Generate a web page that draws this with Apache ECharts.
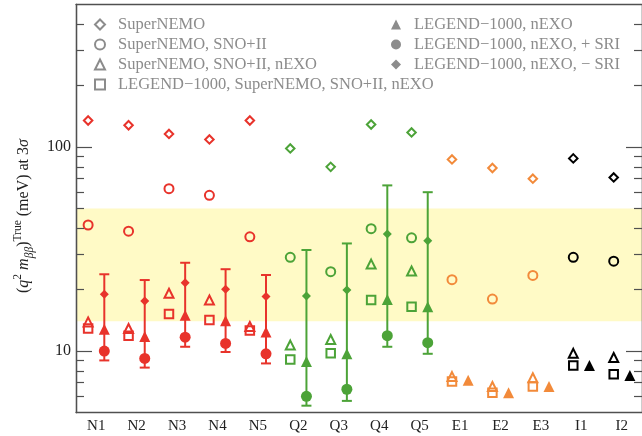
<!DOCTYPE html>
<html>
<head>
<meta charset="utf-8">
<script src="https://cdn.jsdelivr.net/npm/echarts@6/dist/echarts.min.js"></script>
<style>
  html, body {margin: 0; padding: 0; background: #fff;}
  #chart {width: 642px; height: 436px;}
</style>
</head>
<body>
<div id="chart"></div>
<script>
const categories = ["N1", "N2", "N3", "N4", "N5", "Q2", "Q3", "Q4", "Q5", "E1", "E2", "E3", "I1", "I2"];
const groupColor = [
  "#e8332b", "#e8332b", "#e8332b", "#e8332b", "#e8332b",
  "#4ca338", "#4ca338", "#4ca338", "#4ca338",
  "#f28a3a", "#f28a3a", "#f28a3a",
  "#000000", "#000000",
];

// open markers
const superNemo = [135, 128, 116, 109, 135, 98.5, 80, 129, 118, 87, 79, 70, 88, 71];
const superNemoSno = [41.5, 38.7, 62.5, 58, 36.3, 28.8, 24.5, 39.8, 35.9, 22.4, 18.0, 23.5, 28.8, 27.6];
const superNemoSnoNexo = [13.9, 12.9, 19.2, 17.8, 13.2, 10.7, 11.4, 26.7, 24.7, 7.5, 6.7, 7.4, 9.75, 9.3];
const allFour = [12.9, 11.9, 15.2, 14.2, 12.6, 9.1, 9.75, 17.8, 16.5, 7.1, 6.25, 6.7, 8.5, 7.7];

// filled markers
const legendNexo = [12.8, 11.8, 15.0, 14.1, 12.4, 8.9, 9.7, 17.9, 16.5, 7.2, 6.25, 6.7, 8.5, 7.6];
const legendNexoPlusSri = [10.0, 9.2, 11.7, 10.9, 9.7, 6.0, 6.5, 11.9, 11.0, null, null, null, null, null];
const legendNexoMinusSri = [19.0, 17.6, 21.6, 20.1, 18.5, 18.6, 19.9, 37.5, 34.7, null, null, null, null, null];
const errLow = [9.0, 8.3, 10.5, 9.9, 8.7, 5.4, 5.7, 10.5, 9.7];
const errHigh = [23.8, 22.3, 27.1, 25.2, 23.6, 31.3, 33.7, 64.9, 60.1];

const band = [14, 50];
const majorTicks = [10, 100];
const minorTicks = [6, 7, 8, 9, 20, 30, 40, 50, 60, 70, 80, 90, 200, 300, 400];

const serif = "Liberation Serif";
const frame = "#505050";
const legendGray = "#8c8c8c";

function points(values, offset, open) {
  return values
    .map((v, i) => {
      if (v == null) return null;
      return {
        value: [i + offset, v],
        itemStyle: open ? {borderColor: groupColor[i]} : {color: groupColor[i]},
      };
    })
    .filter(d => d);
}

function openSeries(name, symbol, size, values) {
  return {
    name: name, type: "scatter", xAxisIndex: 2, yAxisIndex: 0, z: 4,
    symbol: symbol, symbolSize: size,
    itemStyle: {color: "rgba(0,0,0,0)", borderColor: legendGray, borderWidth: 2, opacity: 1},
    data: points(values, -0.2, true),
  };
}

function filledSeries(name, symbol, size, values) {
  return {
    name: name, type: "scatter", xAxisIndex: 2, yAxisIndex: 0, z: 5,
    symbol: symbol, symbolSize: size,
    itemStyle: {color: legendGray, opacity: 1},
    data: points(values, 0.2, false),
  };
}

function yAxisDef(position, ticks, length, withLabel) {
  return {
    type: "log", logBase: 10, min: 5, max: 500, position: position, z: 6,
    axisLine: {show: true, onZero: false, lineStyle: {color: frame, width: 1.3}},
    axisTick: {show: true, inside: true, length: length, customValues: ticks, lineStyle: {color: frame, width: 1.2}},
    axisLabel: {
      show: withLabel, customValues: ticks, margin: 5, fontSize: 16, fontFamily: serif, color: "#222",
      formatter: v => (v === 10 || v === 100) ? String(v) : "",
    },
    splitLine: {show: false},
  };
}

const chart = echarts.init(document.getElementById("chart"));

const yLeft = yAxisDef("left", majorTicks, 16, true);
yLeft.name = "({i|q}{sup|2} {i|m}{sub|ββ}){sup|True} (meV) at 3{i|σ}";
yLeft.nameLocation = "middle";
yLeft.nameRotate = 90;
yLeft.nameGap = 29;
yLeft.nameTextStyle = {
  fontSize: 16, fontFamily: serif, color: "#222", lineHeight: 24,
  padding: [0, 15, 0, 0],
  rich: {
    i: {fontSize: 16, fontFamily: serif, fontStyle: "italic", color: "#222", lineHeight: 24},
    sup: {fontSize: 11.5, fontFamily: serif, color: "#222", verticalAlign: "top", lineHeight: 11},
    sub: {fontSize: 11.5, fontFamily: serif, fontStyle: "italic", color: "#222", verticalAlign: "bottom", lineHeight: 11},
  },
};

const legendText = {fontSize: 16.5, fontFamily: serif, color: legendGray, lineHeight: 15, padding: [0, 0, 0, 8]};

const option = {
  animation: false,
  backgroundColor: "#fff",
  grid: {left: 76, right: -3, top: 4.5, bottom: 23.5},
  legend: [
    {
      left: 94, top: 16, orient: "vertical", padding: 0, itemWidth: 10, itemHeight: 10, itemGap: 3,
      selectedMode: false, textStyle: legendText,
      data: [
        "SuperNEMO",
        "SuperNEMO, SNO+II",
        "SuperNEMO, SNO+II, nEXO",
        "LEGEND−1000, SuperNEMO, SNO+II, nEXO",
      ],
    },
    {
      left: 391, top: 16, orient: "vertical", padding: 0, itemWidth: 10, itemHeight: 10, itemGap: 3,
      selectedMode: false, textStyle: legendText,
      data: [
        "LEGEND−1000, nEXO",
        "LEGEND−1000, nEXO, + SRI",
        "LEGEND−1000, nEXO, − SRI",
      ],
    },
  ],
  xAxis: [
    {
      type: "category", data: categories, position: "bottom", boundaryGap: true, z: 6,
      axisLine: {onZero: false, lineStyle: {color: frame, width: 1.3}},
      axisTick: {inside: true, length: 12, lineStyle: {color: frame, width: 1.2}},
      axisLabel: {fontSize: 15, fontFamily: serif, color: "#222", margin: 6},
    },
    {
      type: "category", data: categories, position: "top", boundaryGap: true, z: 6,
      axisLine: {onZero: false, lineStyle: {color: frame, width: 1.3}},
      axisTick: {inside: true, length: 12, lineStyle: {color: frame, width: 1.2}},
      axisLabel: {show: false},
    },
    {type: "value", min: -0.5, max: 13.5, show: false},
  ],
  yAxis: [
    yLeft,
    yAxisDef("left", minorTicks, 8, false),
    yAxisDef("right", majorTicks, 16, false),
    yAxisDef("right", minorTicks, 8, false),
  ],
  series: [
    {
      type: "scatter", xAxisIndex: 2, yAxisIndex: 0, z: 1, data: [], silent: true,
      markArea: {
        silent: true,
        itemStyle: {color: "#fffac6", opacity: 1},
        data: [[{yAxis: band[0]}, {yAxis: band[1]}]],
      },
    },
    {
      type: "custom", xAxisIndex: 2, yAxisIndex: 0, z: 3,
      data: errLow.map((lo, i) => [i + 0.2, lo, errHigh[i], i]),
      encode: {x: 0, y: [1, 2]},
      renderItem: function (params, api) {
        const x = api.value(0);
        const lo = api.coord([x, api.value(1)]);
        const hi = api.coord([x, api.value(2)]);
        const st = {stroke: groupColor[api.value(3)], lineWidth: 2};
        const w = 5;
        return {
          type: "group",
          children: [
            {type: "line", shape: {x1: lo[0], y1: lo[1], x2: hi[0], y2: hi[1]}, style: st},
            {type: "line", shape: {x1: hi[0] - w, y1: hi[1], x2: hi[0] + w, y2: hi[1]}, style: st},
            {type: "line", shape: {x1: lo[0] - w, y1: lo[1], x2: lo[0] + w, y2: lo[1]}, style: st},
          ],
        };
      },
    },
    openSeries("SuperNEMO", "diamond", 8.5, superNemo),
    openSeries("SuperNEMO, SNO+II", "circle", 9, superNemoSno),
    openSeries("SuperNEMO, SNO+II, nEXO", "triangle", 9, superNemoSnoNexo),
    openSeries("LEGEND−1000, SuperNEMO, SNO+II, nEXO", "rect", 8.5, allFour),
    filledSeries("LEGEND−1000, nEXO", "triangle", 11, legendNexo),
    filledSeries("LEGEND−1000, nEXO, + SRI", "circle", 11, legendNexoPlusSri),
    filledSeries("LEGEND−1000, nEXO, − SRI", "diamond", 9, legendNexoMinusSri),
  ],
};

chart.setOption(option);
</script>
</body>
</html>
